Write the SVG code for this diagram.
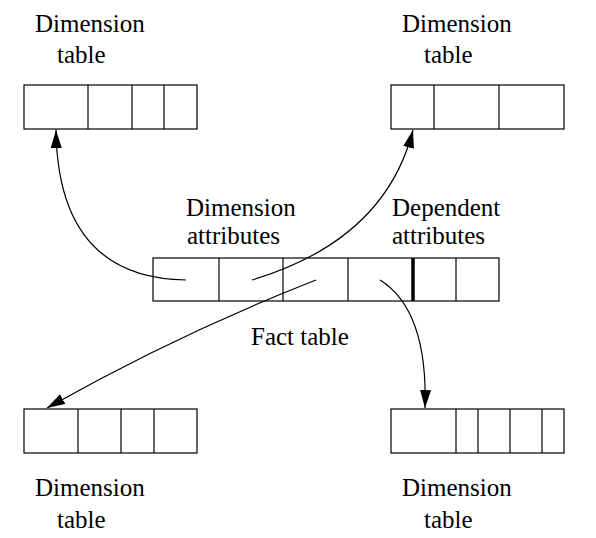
<svg xmlns="http://www.w3.org/2000/svg" width="596" height="538" viewBox="0 0 596 538">
<style>
.box{fill:#fff;stroke:#000;stroke-width:1.2}
.div{stroke:#000;stroke-width:1.2}
.thick{stroke:#000;stroke-width:3.5}
.lbl{font-family:'Liberation Serif','DejaVu Serif',serif;font-size:25px;fill:#000}
.conn{fill:none;stroke:#000;stroke-width:1.2}
</style>
<defs>
<marker id="arr" markerUnits="userSpaceOnUse" markerWidth="20" markerHeight="12" refX="18" refY="6" orient="auto">
<path d="M0,0.5 L18,6 L0,11.5 Z" fill="#000"/>
</marker>
</defs>
<rect width="596" height="538" fill="#fff"/>

<g id="dim-top-left">
<rect class="box" x="24" y="85" width="173" height="44"/>
<line class="div" x1="88" y1="85" x2="88" y2="129"/>
<line class="div" x1="132" y1="85" x2="132" y2="129"/>
<line class="div" x1="164" y1="85" x2="164" y2="129"/>
<text class="lbl" font-family="Liberation Serif, serif" x="35" y="32">Dimension</text>
<text class="lbl" font-family="Liberation Serif, serif" x="57" y="63">table</text>
</g>

<g id="dim-top-right">
<rect class="box" x="391" y="85" width="173" height="44"/>
<line class="div" x1="434" y1="85" x2="434" y2="129"/>
<line class="div" x1="499" y1="85" x2="499" y2="129"/>
<text class="lbl" font-family="Liberation Serif, serif" x="402" y="32">Dimension</text>
<text class="lbl" font-family="Liberation Serif, serif" x="424" y="63">table</text>
</g>

<g id="fact-table">
<rect class="box" x="153" y="258" width="346" height="43"/>
<line class="div" x1="219" y1="258" x2="219" y2="301"/>
<line class="div" x1="283" y1="258" x2="283" y2="301"/>
<line class="div" x1="348" y1="258" x2="348" y2="301"/>
<line class="thick" x1="413" y1="258" x2="413" y2="301"/>
<line class="div" x1="456" y1="258" x2="456" y2="301"/>
<text class="lbl" font-family="Liberation Serif, serif" x="186" y="216">Dimension</text>
<text class="lbl" font-family="Liberation Serif, serif" x="187" y="244">attributes</text>
<text class="lbl" font-family="Liberation Serif, serif" x="392" y="216">Dependent</text>
<text class="lbl" font-family="Liberation Serif, serif" x="392" y="244">attributes</text>
<text class="lbl" font-family="Liberation Serif, serif" x="251" y="345">Fact table</text>
</g>

<g id="dim-bottom-left">
<rect class="box" x="24" y="409" width="173" height="44"/>
<line class="div" x1="78" y1="409" x2="78" y2="453"/>
<line class="div" x1="121" y1="409" x2="121" y2="453"/>
<line class="div" x1="154" y1="409" x2="154" y2="453"/>
<text class="lbl" font-family="Liberation Serif, serif" x="35" y="496">Dimension</text>
<text class="lbl" font-family="Liberation Serif, serif" x="57" y="528">table</text>
</g>

<g id="dim-bottom-right">
<rect class="box" x="391" y="409" width="173" height="44"/>
<line class="div" x1="456" y1="409" x2="456" y2="453"/>
<line class="div" x1="478" y1="409" x2="478" y2="453"/>
<line class="div" x1="510" y1="409" x2="510" y2="453"/>
<line class="div" x1="542" y1="409" x2="542" y2="453"/>
<text class="lbl" font-family="Liberation Serif, serif" x="402" y="496">Dimension</text>
<text class="lbl" font-family="Liberation Serif, serif" x="424" y="528">table</text>
</g>

<g id="connectors">
<path class="conn" d="M186,280 Q58,278 56,130" marker-end="url(#arr)"/>
<path class="conn" d="M252,280 Q385,240 413,130" marker-end="url(#arr)"/>
<path class="conn" d="M316,280 Q178,334 47,408" marker-end="url(#arr)"/>
<path class="conn" d="M380,280 Q428,310 425,408" marker-end="url(#arr)"/>
</g>
</svg>
